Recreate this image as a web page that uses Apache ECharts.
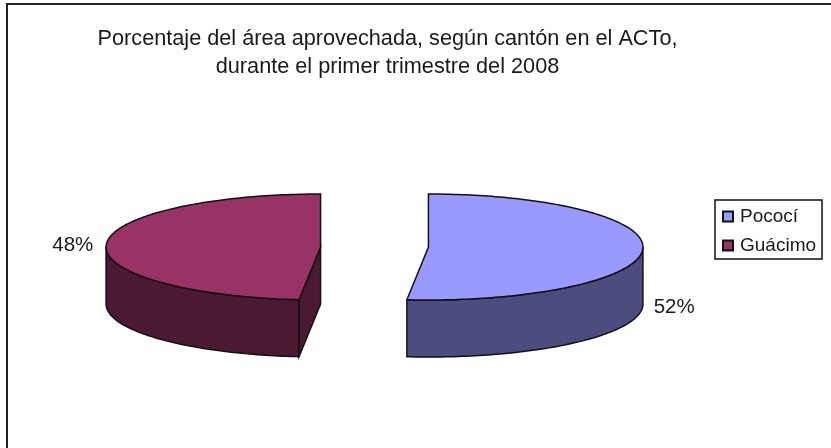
<!DOCTYPE html>
<html>
<head>
<meta charset="utf-8">
<style>html,body{margin:0;padding:0;background:#fff}#chart{width:831px;height:448px}</style>
<script src="https://cdn.jsdelivr.net/npm/echarts@6/dist/echarts.min.js"></script>
</head>
<body>
<div id="chart"></div>
<script>
const categories = ['Pococí', 'Guácimo'];
const shares = [51.6, 48.4];
const topColors = ['#9999FF', '#993366'];
const sideColors = ['#4C4C7F', '#4C1933'];

const center = [374.5, 247];
const radiusX = 214.5;
const radiusY = 53;
const depth = 57;
const explode = 54;
const font = '"Liberation Sans", Arial, sans-serif';
const textColor = '#1a1a1a';

const total = shares.reduce((a, b) => a + b, 0);
const chart = echarts.init(document.getElementById('chart'));

function makeSlice(index) {
  const before = shares.slice(0, index).reduce((a, b) => a + b, 0);
  const start = before / total * Math.PI * 2;
  const end = (before + shares[index]) / total * Math.PI * 2;
  return { start, end };
}

function renderSlice(index) {
  return function (params, api) {
    const { start, end } = makeSlice(index);
    const mid = (start + end) / 2;
    const cx = center[0] + explode * Math.sin(mid);
    const cy = center[1];
    const pt = (a, dy) => [cx + radiusX * Math.sin(a), cy - radiusY * Math.cos(a) + (dy || 0)];
    const arc = (a0, a1, dy) => {
      const out = [];
      const n = Math.max(2, Math.ceil(Math.abs(a1 - a0) / 0.02));
      for (let i = 0; i <= n; i++) out.push(pt(a0 + (a1 - a0) * i / n, dy));
      return out;
    };
    const children = [];
    const line = { stroke: '#111', lineWidth: 1.5 };
    // side wall, only the part facing the front
    const s0 = Math.max(start, Math.PI / 2);
    const s1 = Math.min(end, Math.PI * 1.5);
    if (s1 > s0) {
      children.push({
        type: 'polygon',
        shape: { points: arc(s0, s1, 0).concat(arc(s1, s0, depth)) },
        style: Object.assign({ fill: sideColors[index] }, line)
      });
    }
    // cut face at the start of the slice
    if (Math.sin(start) < 0) {
      const p = pt(start);
      children.push({
        type: 'polygon',
        shape: { points: [[cx, cy], p, [p[0], p[1] + depth], [cx, cy + depth]] },
        style: Object.assign({ fill: sideColors[index] }, line)
      });
    }
    // top
    children.push({
      type: 'polygon',
      shape: { points: [[cx, cy]].concat(arc(start, end, 0)) },
      style: Object.assign({ fill: topColors[index] }, line)
    });
    // percent label
    const lp = pt(mid, Math.cos(mid) < 0 ? depth : 0);
    const right = Math.sin(mid) > 0;
    children.push({
      type: 'text',
      style: {
        x: lp[0] + (right ? 11 : -13),
        y: lp[1] + 1,
        text: Math.round(api.value(0) / total * 100) + '%',
        fill: textColor,
        font: '20.5px ' + font,
        align: right ? 'left' : 'right',
        verticalAlign: 'middle'
      }
    });
    return { type: 'group', children };
  };
}

chart.setOption({
  animation: false,
  backgroundColor: '#fff',
  title: {
    text: 'Porcentaje del área aprovechada, según cantón en el ACTo,\ndurante el primer trimestre del 2008',
    left: 382.5,
    top: 20,
    textAlign: 'center',
    textStyle: { fontFamily: font, fontSize: 21.7, fontWeight: 'normal', color: textColor, lineHeight: 28 }
  },
  legend: {
    orient: 'vertical',
    left: 715,
    top: 200,
    data: categories,
    icon: 'rect',
    itemWidth: 10,
    itemHeight: 10,
    itemGap: 10,
    padding: [7, 6, 4, 7],
    selectedMode: false,
    backgroundColor: '#fff',
    borderColor: '#111',
    borderWidth: 1.5,
    textStyle: { fontFamily: font, fontSize: 19, color: textColor, lineHeight: 19, padding: [0, 0, 0, 2] }
  },
  graphic: [
    { type: 'line', shape: { x1: 6, y1: 4, x2: 831, y2: 4 }, style: { stroke: '#222', lineWidth: 2 } },
    { type: 'line', shape: { x1: 7, y1: 3, x2: 7, y2: 448 }, style: { stroke: '#222', lineWidth: 2 } }
  ],
  series: categories.map((name, i) => ({
    type: 'custom',
    name,
    coordinateSystem: 'none',
    silent: true,
    renderItem: renderSlice(i),
    data: [shares[i]],
    itemStyle: { color: topColors[i], borderColor: '#111', borderWidth: 1.5 }
  }))
});
</script>
</body>
</html>
